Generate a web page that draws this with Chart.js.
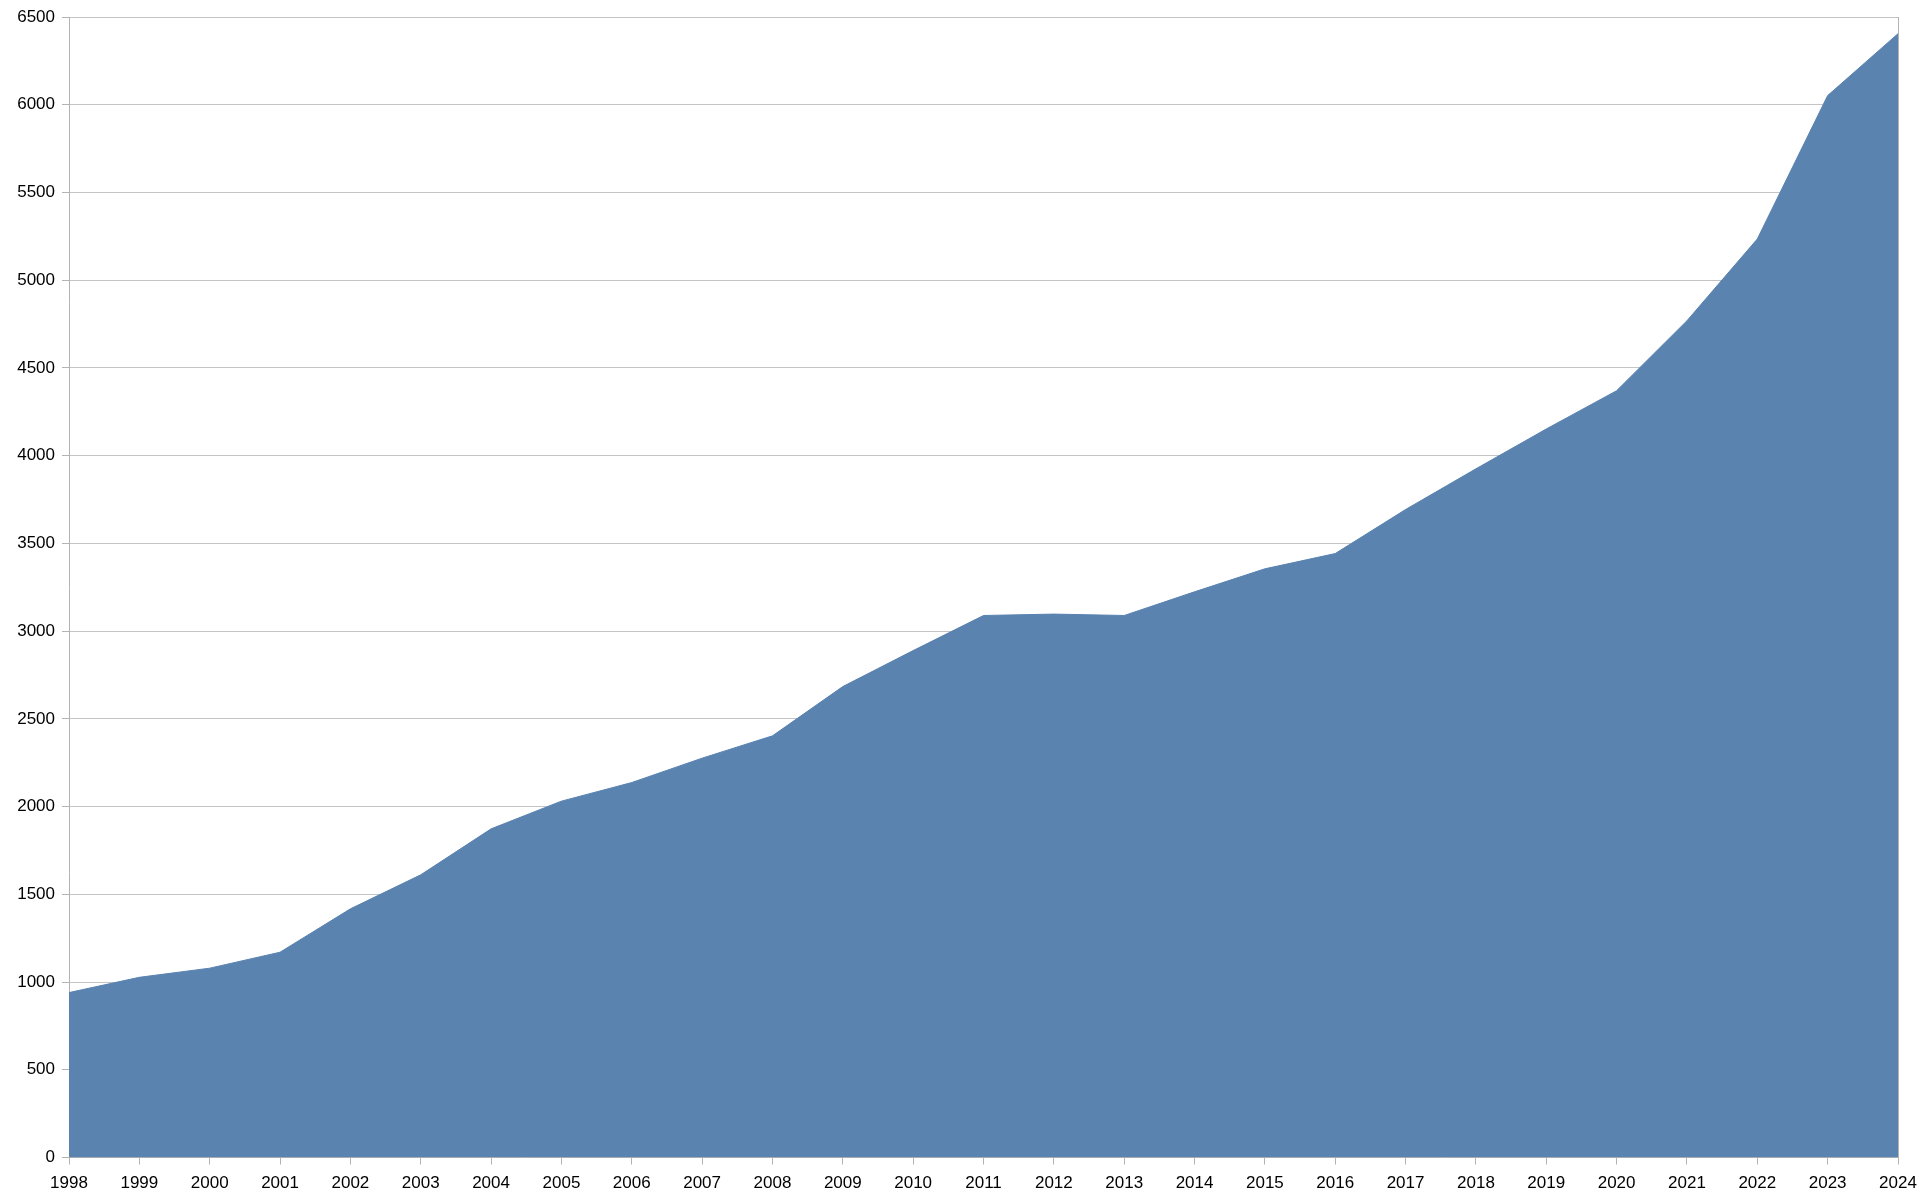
<!DOCTYPE html>
<html>
<head>
<meta charset="utf-8">
<script src="https://cdn.jsdelivr.net/npm/chart.js@4/dist/chart.umd.min.js"></script>
<style>
    html, body { margin: 0; padding: 0; background: #ffffff; }
    #wrap { width: 1920px; height: 1202px; }
</style>
</head>
<body>
<div id="wrap"><canvas id="grafico" width="1920" height="1202"></canvas></div>
<script>
// dados
const anos = ['1998', '1999', '2000', '2001', '2002', '2003', '2004', '2005', '2006',
    '2007', '2008', '2009', '2010', '2011', '2012', '2013', '2014', '2015', '2016',
    '2017', '2018', '2019', '2020', '2021', '2022', '2023', '2024'];
const valores = [940, 1027, 1079, 1170, 1417, 1611, 1873, 2031, 2137,
    2276, 2403, 2684, 2889, 3089, 3097, 3089, 3224, 3355, 3442,
    3693, 3925, 4152, 4370, 4769, 5235, 6052, 6405];
const yMin = 0;
const yMax = 6500;
const yPasso = 500;

const corArea = '#5a83b0';
const corGrade = '#c4c4c4';
const corEixo = '#b3b3b3';
const fonte = { family: '"Liberation Sans", Arial, sans-serif', size: 17 };

Chart.defaults.font.family = fonte.family;

const ctx = document.getElementById('grafico').getContext('2d');
const grafico = new Chart(ctx, {
    type: 'line',
    data: {
        labels: anos,
        datasets: [{
            data: valores,
            fill: 'origin',
            backgroundColor: corArea,
            borderColor: corArea,
            borderWidth: 1,
            pointRadius: 0,
            tension: 0
        }]
    },
    options: {
        responsive: false,
        animation: false,
        layout: { padding: { left: 0, right: 22, top: 17, bottom: 0 } },
        plugins: {
            legend: { display: false },
            tooltip: { enabled: false }
        },
        scales: {
            x: {
                offset: false,
                afterFit: function (s) {
                    s.height = 44.5;
                    s.paddingLeft = 0;   // área fixa, sem ajuste pelos rótulos
                    s.paddingRight = 0;
                },
                grid: {
                    drawOnChartArea: true,
                    // só a borda da direita
                    color: function (c) { return c.index === anos.length - 1 ? corEixo : 'rgba(0,0,0,0)'; },
                    tickColor: corEixo,
                    tickLength: 7
                },
                border: { display: true, color: corEixo },
                ticks: {
                    color: '#000000',
                    font: fonte,
                    padding: 9,
                    maxRotation: 0,
                    autoSkip: false
                }
            },
            y: {
                min: yMin,
                max: yMax,
                afterFit: function (s) {
                    s.width = 69;
                    s.paddingTop = 0;
                    s.paddingBottom = 0;
                },
                grid: {
                    color: corGrade,
                    tickColor: corEixo,
                    tickLength: 7
                },
                border: { display: true, color: corEixo },
                ticks: {
                    stepSize: yPasso,
                    color: '#000000',
                    font: fonte,
                    padding: 7,
                    callback: function (valor) { return String(valor); }
                }
            }
        }
    }
});
</script>
</body>
</html>
